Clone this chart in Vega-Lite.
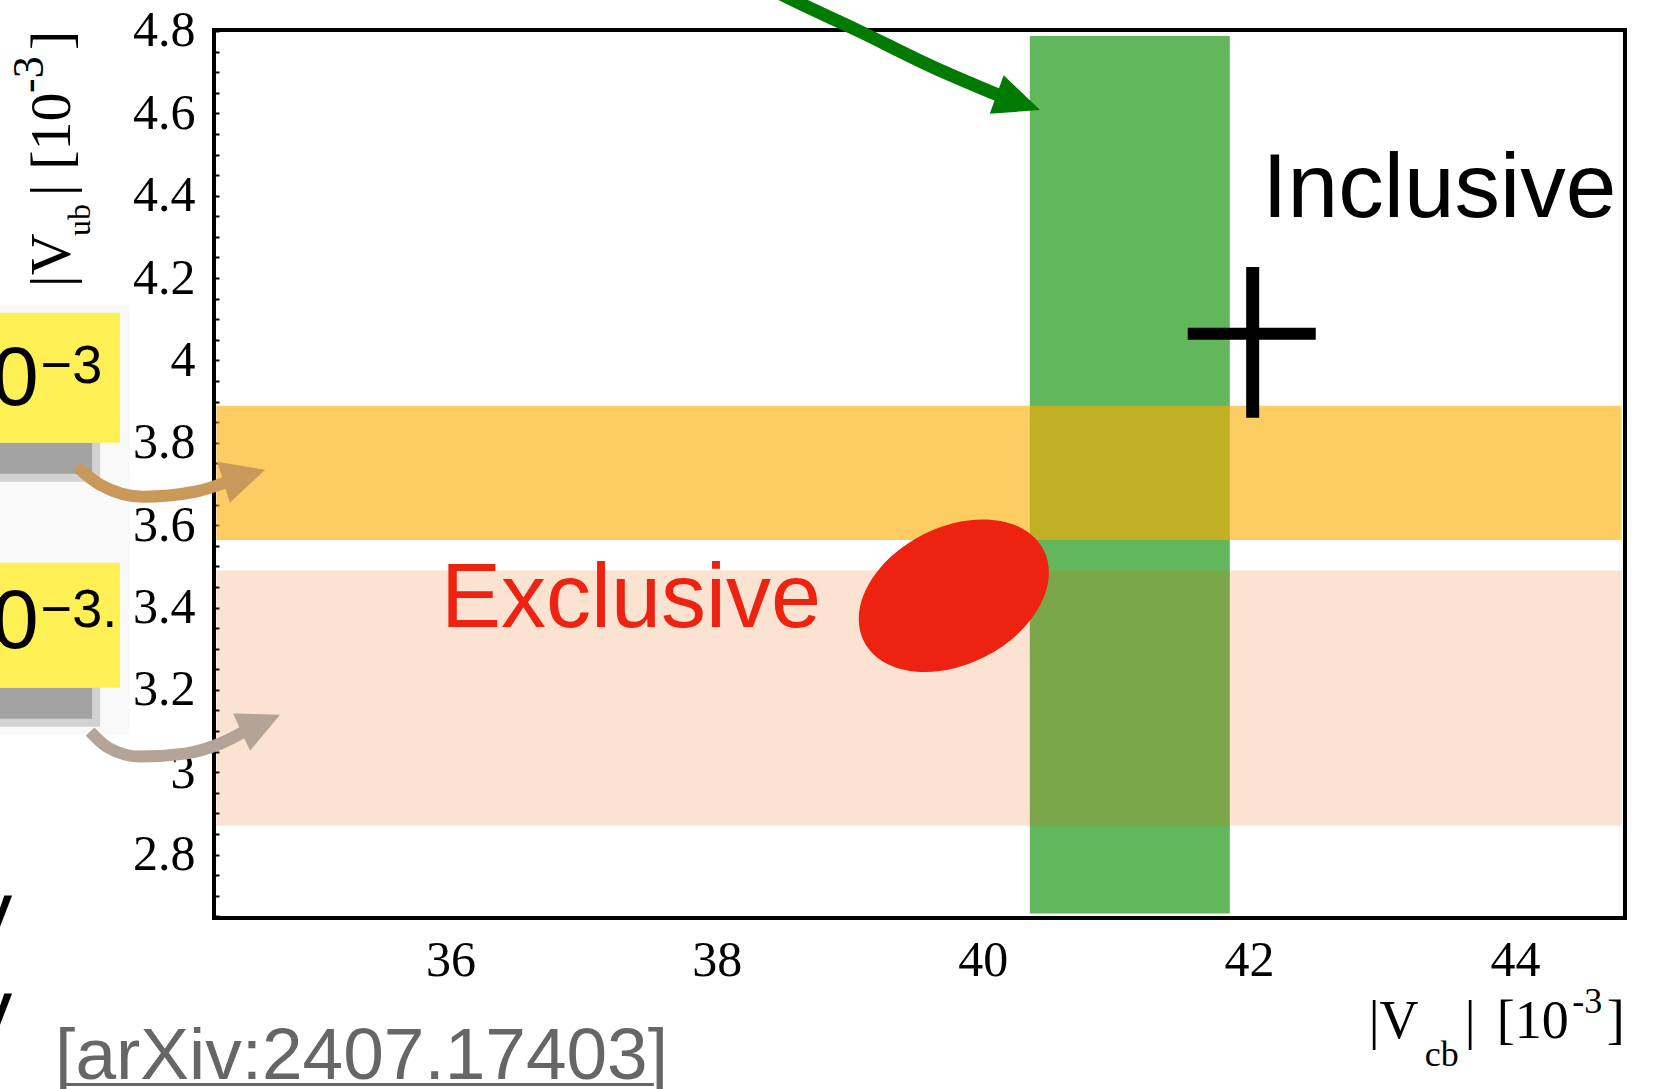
{
  "$schema": "https://vega.github.io/schema/vega-lite/v6.json",
  "width": 1411,
  "height": 888,
  "autosize": {"type": "none"},
  "padding": {"left": 214, "top": 30, "right": 29, "bottom": 171},
  "background": "white",
  "config": {"view": {"stroke": "black", "strokeWidth": 4}, "axis": {"grid": false}},
  "encoding": {
    "x": {"field": "x", "type": "quantitative",
      "scale": {"domain": [34.222, 44.826], "nice": false, "zero": false},
      "axis": {"orient": "bottom", "values": [36, 38, 40, 42, 44], "tickSize": 0, "domain": false, "title": null,
        "labelFont": "Liberation Serif", "labelFontSize": 50, "labelColor": "#000000", "labelPadding": 17}},
    "y": {"field": "y", "type": "quantitative",
      "scale": {"domain": [2.646, 4.8024], "nice": false, "zero": false},
      "axis": {"values": [2.65,2.7,2.75,2.8,2.85,2.9,2.95,3,3.05,3.1,3.15,3.2,3.25,3.3,3.35,3.4,3.45,3.5,3.55,3.6,3.65,3.7,3.75,3.8,3.85,3.9,3.95,4,4.05,4.1,4.15,4.2,4.25,4.3,4.35,4.4,4.45,4.5,4.55,4.6,4.65,4.7,4.75,4.8],
        "orient": "left", "tickSize": -5, "tickWidth": 2, "tickColor": "black", "domain": false, "grid": false, "title": null,
        "labelFont": "Liberation Serif", "labelFontSize": 50, "labelColor": "black", "labelPadding": 24,
        "labelExpr": "abs(datum.value*5 - round(datum.value*5)) < 0.001 ? format(datum.value, '~g') : ''",
        "labelFlush": false, "labelOverlap": false, "labelBound": false}}
  },
  "layer": [
    {"data": {"values": [{"x": 32.4, "x2": 33.59, "y": 4.135, "y2": 3.09}]},
     "mark": {"type": "rect", "color": "#F9F9F9"},
     "encoding": {"x2": {"field": "x2"}, "y2": {"field": "y2"}}},
    {"data": {"values": [{"x": 32.4, "x2": 33.366, "y": 3.8073, "y2": 3.7053}, {"x": 32.4, "x2": 33.366, "y": 3.2126, "y2": 3.1107}]},
     "mark": {"type": "rect", "color": "#D2D2D2"},
     "encoding": {"x2": {"field": "x2"}, "y2": {"field": "y2"}}},
    {"data": {"values": [{"x": 32.4, "x2": 33.306, "y": 3.8, "y2": 3.7248}, {"x": 32.4, "x2": 33.306, "y": 3.2053, "y2": 3.1301}]},
     "mark": {"type": "rect", "color": "#A3A3A3"},
     "encoding": {"x2": {"field": "x2"}, "y2": {"field": "y2"}}},
    {"data": {"values": [{"x": 32.4, "x2": 33.516, "y": 4.1155, "y2": 3.8}, {"x": 32.4, "x2": 33.516, "y": 3.5087, "y2": 3.2053}]},
     "mark": {"type": "rect", "color": "#FFF155"},
     "encoding": {"x2": {"field": "x2"}, "y2": {"field": "y2"}}},
    {"data": {"values": [{"x": 32.904, "y": 3.8922, "label": "0"}, {"x": 32.904, "y": 3.3024, "label": "0"}]},
     "mark": {"type": "text", "font": "Liberation Sans", "fontSize": 84, "align": "right", "baseline": "alphabetic", "color": "black"},
     "encoding": {"text": {"field": "label"}}},
    {"data": {"values": [{"x": 32.919, "y": 3.9456, "label": "−3"}, {"x": 32.919, "y": 3.3534, "label": "−3."}]},
     "mark": {"type": "text", "font": "Liberation Sans", "fontSize": 54, "align": "left", "baseline": "alphabetic", "color": "black"},
     "encoding": {"text": {"field": "label"}}},
    {"data": {"values": [{"x": 32.705, "y": 2.5937, "label": "y"}, {"x": 32.705, "y": 2.3558, "label": "y"}]},
     "mark": {"type": "text", "font": "Liberation Sans", "fontSize": 84, "align": "right", "baseline": "alphabetic", "color": "black"},
     "encoding": {"text": {"field": "label"}}},
    {"data": {"values": [{"x": 33.028, "y": 2.2539, "label": "[arXiv:2407.17403]"}]},
     "mark": {"type": "text", "font": "Liberation Sans", "fontSize": 73, "align": "left", "baseline": "alphabetic", "color": "#666666"},
     "encoding": {"text": {"field": "label"}}},
    {"data": {"values": [{"x": 33.08, "x2": 37.528, "y": 2.2417}]},
     "mark": {"type": "rule", "color": "#666666", "strokeWidth": 3},
     "encoding": {"x2": {"field": "x2"}}},
    {"data": {"values": [{"x": 33.1405, "y": 4.1786, "label": "|V"}, {"x": 33.1405, "y": 4.3995, "label": "| [10"}, {"x": 33.1405, "y": 4.7539, "label": "]"}]},
     "mark": {"type": "text", "font": "Liberation Serif", "fontSize": 58, "angle": 270, "align": "left", "baseline": "alphabetic", "color": "black"},
     "encoding": {"text": {"field": "label"}}},
    {"data": {"values": [{"x": 33.2909, "y": 4.3024, "label": "ub"}]},
     "mark": {"type": "text", "font": "Liberation Serif", "fontSize": 32, "angle": 270, "align": "left", "baseline": "alphabetic", "color": "black"},
     "encoding": {"text": {"field": "label"}}},
    {"data": {"values": [{"x": 32.9377, "y": 4.6495, "label": "-3"}]},
     "mark": {"type": "text", "font": "Liberation Serif", "fontSize": 44, "angle": 270, "align": "left", "baseline": "alphabetic", "color": "black"},
     "encoding": {"text": {"field": "label"}}},
    {"data": {"values": [{"x": 42.9, "y": 2.3558, "label": "|V"}, {"x": 43.621, "y": 2.3558, "label": "|"}, {"x": 43.862, "y": 2.3558, "label": "[10"}, {"x": 44.688, "y": 2.3558, "label": "]"}]},
     "mark": {"type": "text", "font": "Liberation Serif", "fontSize": 54, "align": "left", "baseline": "alphabetic", "color": "black"},
     "encoding": {"text": {"field": "label"}}},
    {"data": {"values": [{"x": 43.321, "y": 2.2854, "label": "cb"}, {"x": 44.43, "y": 2.4165, "label": "-3"}]},
     "mark": {"type": "text", "font": "Liberation Serif", "fontSize": 36, "align": "left", "baseline": "alphabetic", "color": "black"},
     "encoding": {"text": {"field": "label"}}},
    {"data": {"values": [{"x": 40.353, "x2": 41.856, "y": 2.657, "y2": 4.788}]},
     "mark": {"type": "rect", "color": "#62B65B"},
     "encoding": {"x2": {"field": "x2"}, "y2": {"field": "y2"}}},
    {"data": {"values": [{"x": 34.24, "x2": 44.8, "y": 3.564, "y2": 3.89}]},
     "mark": {"type": "rect", "color": "#FCAC03", "opacity": 0.62},
     "encoding": {"x2": {"field": "x2"}, "y2": {"field": "y2"}}},
    {"data": {"values": [{"x": 34.24, "x2": 44.8, "y": 2.87, "y2": 3.49}]},
     "mark": {"type": "rect", "color": "#EE6200", "opacity": 0.18},
     "encoding": {"x2": {"field": "x2"}, "y2": {"field": "y2"}}},
    {"data": {"values": [{"x": 39.782, "y": 3.4286}]},
     "mark": {"type": "point", "filled": true, "color": "#EE2210", "opacity": 1, "strokeWidth": 0, "size": 40643, "angle": 333,
       "shape": "M 1 0 C 1 0.3756 0.5523 0.68 0 0.68 C -0.5523 0.68 -1 0.3756 -1 0 C -1 -0.3756 -0.5523 -0.68 0 -0.68 C 0.5523 -0.68 1 -0.3756 1 0 Z"}},
    {"data": {"values": [{"x": 41.54, "x2": 42.502, "y": 4.0646}]},
     "mark": {"type": "rule", "color": "black", "strokeWidth": 12, "strokeCap": "butt"},
     "encoding": {"x2": {"field": "x2"}}},
    {"data": {"values": [{"x": 42.028, "y": 3.861, "y2": 4.227}]},
     "mark": {"type": "rule", "color": "black", "strokeWidth": 13, "strokeCap": "butt"},
     "encoding": {"y2": {"field": "y2"}}},
    {"data": {"values": [{"x": 42.1, "y": 4.3485, "label": "Inclusive"}]},
     "mark": {"type": "text", "font": "Liberation Sans", "fontSize": 91, "align": "left", "baseline": "alphabetic", "color": "black"},
     "encoding": {"text": {"field": "label"}}},
    {"data": {"values": [{"x": 35.928, "y": 3.3534, "label": "Exclusive"}]},
     "mark": {"type": "text", "font": "Liberation Sans", "fontSize": 90, "align": "left", "baseline": "alphabetic", "color": "#EE2210"},
     "encoding": {"text": {"field": "label"}}},
    {"data": {"values": [{"x": 33.193, "y": 3.7417}, {"x": 33.366, "y": 3.698}, {"x": 33.689, "y": 3.6689}, {"x": 34.08, "y": 3.6811}, {"x": 34.343, "y": 3.7078}]},
     "mark": {"type": "line", "color": "#C8995A", "strokeWidth": 12, "strokeCap": "butt", "interpolate": "monotone"}},
    {"data": {"values": [{"x": 34.45, "y": 3.7193}]},
     "mark": {"type": "point", "filled": true, "color": "#C8995A", "opacity": 1, "strokeWidth": 0, "size": 1884, "angle": 343.2,
       "shape": "M -1 -0.99 L 1 0 L -1 0.99 Z"}},
    {"data": {"values": [{"x": 33.291, "y": 3.0985}, {"x": 33.426, "y": 3.0597}, {"x": 33.667, "y": 3.0379}, {"x": 34.005, "y": 3.0451}, {"x": 34.267, "y": 3.0694}, {"x": 34.463, "y": 3.101}]},
     "mark": {"type": "line", "color": "#B4A397", "strokeWidth": 12, "strokeCap": "butt", "interpolate": "monotone"}},
    {"data": {"values": [{"x": 34.574, "y": 3.1186}]},
     "mark": {"type": "point", "filled": true, "color": "#B4A397", "opacity": 1, "strokeWidth": 0, "size": 1781, "angle": 335.6,
       "shape": "M -1 -0.97 L 1 0 L -1 0.97 Z"}},
    {"data": {"values": [{"x": 38.249, "y": 4.9286}, {"x": 38.573, "y": 4.8752}, {"x": 39.053, "y": 4.8024}, {"x": 39.624, "y": 4.7126}, {"x": 40.15, "y": 4.6398}]},
     "mark": {"type": "line", "color": "#007A00", "strokeWidth": 13, "strokeCap": "butt", "interpolate": "monotone"}},
    {"data": {"values": [{"x": 40.267, "y": 4.627}]},
     "mark": {"type": "point", "filled": true, "color": "#007A00", "opacity": 1, "strokeWidth": 0, "size": 2116, "angle": 19.8,
       "shape": "M -1 -0.89 L 1 0 L -1 0.89 Z"}}
  ]
}
